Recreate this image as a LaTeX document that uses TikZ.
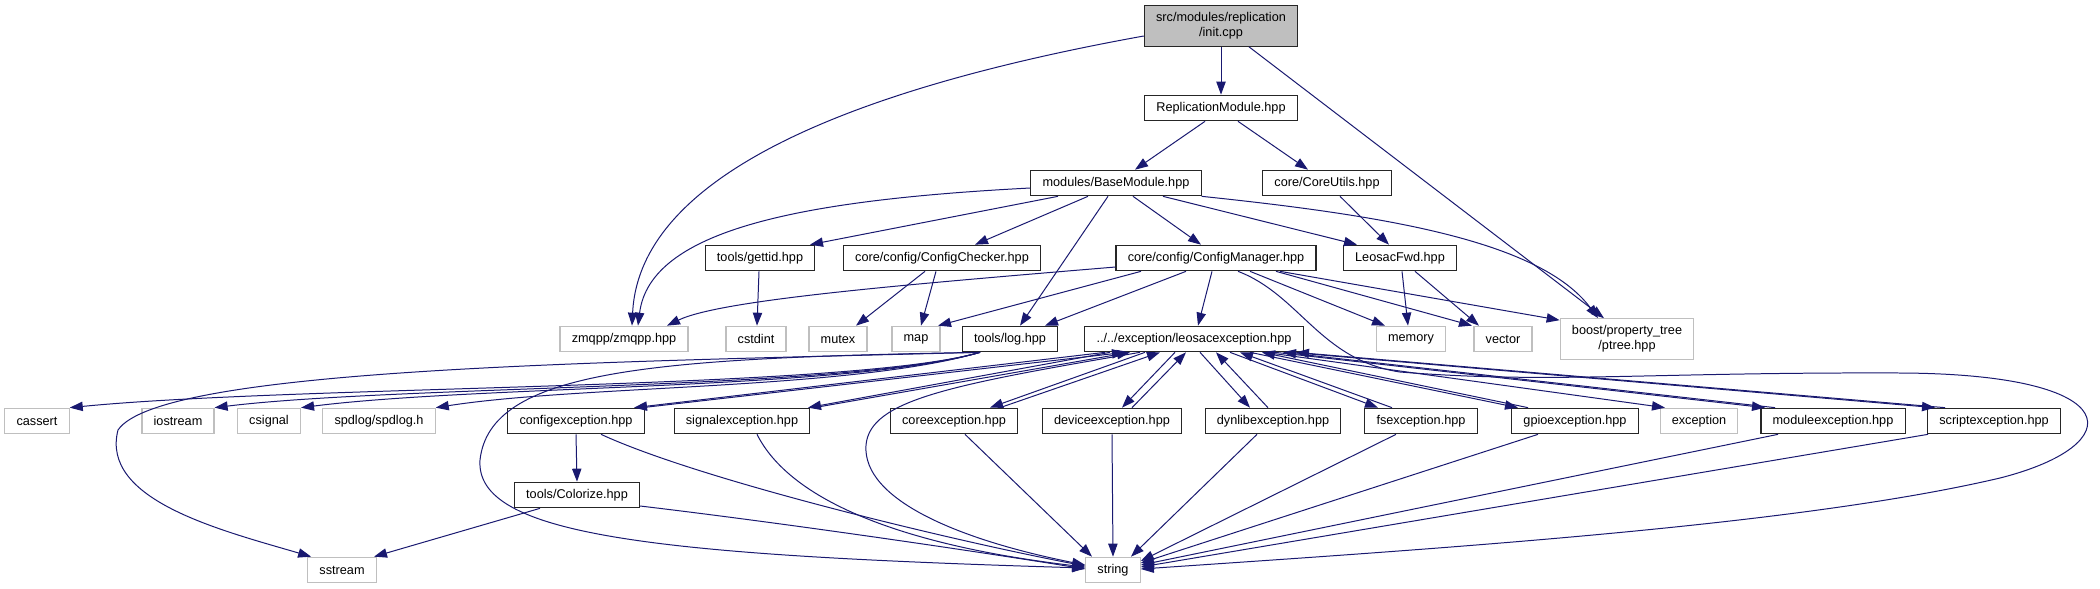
\documentclass[tikz,border=0pt]{standalone}
\usepackage{fontspec}
\setmainfont{Liberation Sans}
\usetikzlibrary{arrows.meta,calc}
\definecolor{edgeblue}{HTML}{191970}
\definecolor{boxgray}{HTML}{BFBFBF}

\begin{document}
\begin{tikzpicture}[
    x=.03cm,y=-.03cm,
    font=\fontsize{10.84}{12.8}\selectfont,
    fb/.style={rectangle,draw=black!85,line width=1pt,minimum height=.765cm,inner xsep=.351cm,inner ysep=0pt,align=center},
    xb/.style={fb,draw=boxgray},
    tall/.style={minimum height=1.215cm},
    e/.style={-{Triangle[length=3.9mm,width=2.8mm]},line width=.85pt,edgeblue}
  ]
    \fill[white] (0,0) rectangle (2100,589);
    \useasboundingbox (0,0) rectangle (2100,589);
    % ranks 0-3
    \node[fb,tall,fill=boxgray] (init) at (1221,26) {src/modules/replication\\/init.cpp};
    \node[fb] (repl) at (1221,108) {ReplicationModule.hpp};
    \node[fb] (base) at (1116,183) {modules/BaseModule.hpp}; \node[fb] (cutil) at (1327,183) {core/CoreUtils.hpp};
    \node[fb] (gettid) at (760,258) {tools/gettid.hpp}; \node[fb] (cchk) at (942,258) {core/config/ConfigChecker.hpp};
    \node[fb] (cmgr) at (1216,258) {core/config/ConfigManager.hpp}; \node[fb] (lfwd) at (1400,258) {LeosacFwd.hpp};
    % rank 4
    \node[xb] (zmq) at (624,339) {zmqpp/zmqpp.hpp}; \node[xb] (cstd) at (756,339) {cstdint};
    \node[xb] (mtx) at (838,339) {mutex}; \node[xb] (map) at (916,339) {map};
    \node[fb] (log) at (1010,339) {tools/log.hpp}; \node[fb] (lexc) at (1194,339) {../../exception/leosacexception.hpp};
    \node[xb] (mem) at (1411,339) {memory}; \node[xb] (vec) at (1503,339) {vector};
    \node[xb,tall] (ptree) at (1627,339) {boost/property\_tree\\/ptree.hpp};
    % rank 5
    \node[xb] (cas) at (37,421) {cassert}; \node[xb] (ios) at (178,421) {iostream};
    \node[xb] (csig) at (269,421) {csignal}; \node[xb] (spd) at (379,421) {spdlog/spdlog.h};
    \node[fb] (cfgx) at (576,421) {configexception.hpp}; \node[fb] (sigx) at (742,421) {signalexception.hpp};
    \node[fb] (corx) at (954,421) {coreexception.hpp}; \node[fb] (devx) at (1112,421) {deviceexception.hpp};
    \node[fb] (dynx) at (1273,421) {dynlibexception.hpp}; \node[fb] (fsx) at (1421,421) {fsexception.hpp};
    \node[fb] (gpx) at (1575,421) {gpioexception.hpp}; \node[xb] (exc) at (1699,421) {exception};
    \node[fb] (modx) at (1833,421) {moduleexception.hpp}; \node[fb] (scrx) at (1994,421) {scriptexception.hpp};
    % ranks 6-7
    \node[fb] (colz) at (577,495) {tools/Colorize.hpp};
    \node[xb] (sstr) at (342,570) {sstream}; \node[xb] (str) at (1113,570) {string};

    \foreach \s/\a/\t/\b in {init/0/repl/0,repl/-16/base/19,repl/17/cutil/-19,base/-58/gettid/50,base/-28/cchk/33,
        base/-8/log/10,base/17/cmgr/-15,base/47/lfwd/-43,cutil/13/lfwd/-11,gettid/-1/cstd/1,cchk/-17/mtx/18,
        cchk/-6/map/5,cmgr/-75/map/22,cmgr/-30/log/35,cmgr/-4/lexc/4,cmgr/34/mem/-26,cmgr/60/vec/-31,
        lfwd/2/mem/-3,lfwd/15/vec/-24,init/28/ptree/-23,cfgx/0/colz/0,devx/0/str/0,corx/11/str/-21,
        dynx/-16/str/18,colz/-37/sstr/32,
        lexc/-89/cfgx/58,lexc/-84/sigx/66,lexc/-49/corx/36,lexc/-19/devx/10,lexc/6/dynx/-23,
        lexc/36/fsx/-43,lexc/56/gpx/-57,lexc/71/exc/-34,lexc/81/modx/-68,lexc/96/scrx/-59}
      {\draw[e] ($(\s.south)+(\a,0)$)--($(\t.north)+(\b,0)$);}
    \foreach \s/\a/\b in {cfgx/66/-69,sigx/72/-64,corx/46/-34,devx/20/-8,dynx/-5/22,fsx/-29/46,gpx/-47/68,modx/-58/89,scrx/-49/102}
      {\draw[e] ($(\s.north)+(\a,0)$)--($(lexc.south)+(\b,0)$);}
    \foreach \s/\a/\b in {fsx/-25/-9,gpx/-37/-7,modx/-55/-5,scrx/-66/-3}
      {\draw[e] ($(\s.south)+(\a,0)$)--($(str.east)+(0,\b)$);}
    \foreach \t/\c in {cas/300,ios/400,csig/480,spd/580}
      {\draw[e] ($(log.south)+(-30,0)$) .. controls (850,390) and (\c,385) .. (\t.north east);}

    \draw[e] ($(init.west)+(0,10)$) .. controls (900,80) and (640,160) .. ($(zmq.north)+(8,0)$);
    \draw[e] ($(base.west)+(0,5)$) .. controls (800,200) and (650,230) .. ($(zmq.north)+(14,0)$);
    \draw[e] ($(cmgr.west)+(0,9)$) .. controls (900,285) and (720,300) .. ($(zmq.north)+(43,0)$);
    \draw[e] (base.south east) .. controls (1380,215) and (1540,240) .. ($(ptree.north)+(-29,0)$);
    \draw[e] ($(cmgr.south)+(64,0)$) -- ($(ptree.north west)+(0,2)$);
    \draw[e] ($(cmgr.south)+(22,0)$) .. controls (1300,295) and (1320,360) .. (1400,372)
      .. controls (1550,384) and (1650,372) .. (1900,373) .. controls (2130,374) and (2130,445) .. (2000,478)
      .. controls (1800,525) and (1450,548) .. ($(str.east)+(0,-1)$);
    \draw[e] ($(log.south)+(-30,0)$) .. controls (600,362) and (160,368) .. (118,430)
      .. controls (100,500) and (220,530) .. ($(sstr.north west)+(4,0)$);
    \draw[e] ($(log.south)+(-30,0)$) .. controls (650,358) and (490,370) .. (480,460)
      .. controls (475,535) and (650,555) .. ($(str.west)+(0,-2)$);
    \draw[e] ($(lexc.south)+(-54,0)$) .. controls (950,385) and (870,400) .. (866,445)
      .. controls (862,500) and (960,540) .. ($(str.west)+(0,-5)$);
    \draw[e] ($(cfgx.south)+(25,0)$) .. controls (700,480) and (950,540) .. ($(str.west)+(0,-4)$);
    \draw[e] ($(colz.east)+(0,11)$) .. controls (800,525) and (1000,555) .. ($(str.west)+(0,-1)$);
    \draw[e] ($(sigx.south)+(15,0)$) .. controls (790,500) and (900,545) .. ($(str.west)+(0,-3)$);
  \end{tikzpicture}
\end{document}
